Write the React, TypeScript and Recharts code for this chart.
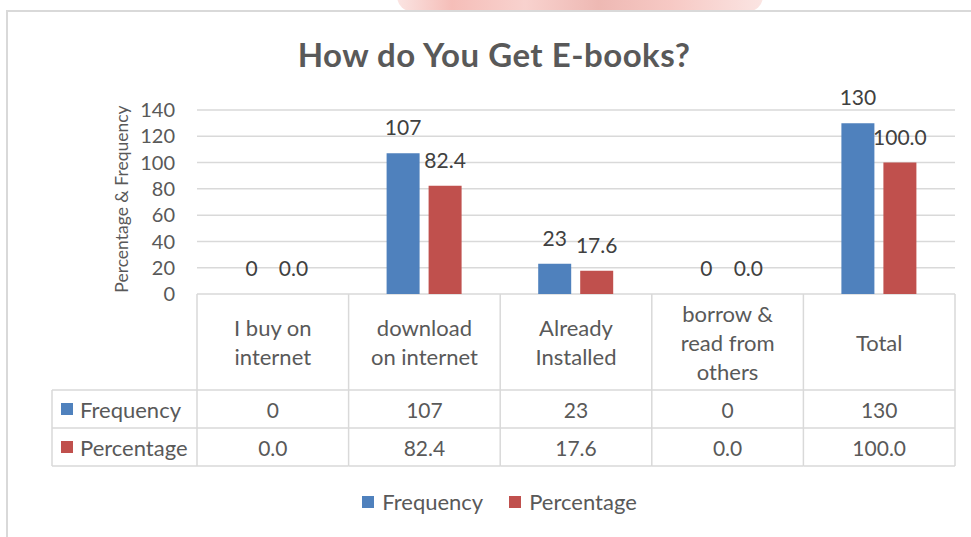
import React from "react";
import { Bar, BarChart, CartesianGrid, LabelList, Legend, XAxis, YAxis } from "recharts";

const categories = [
  "I buy on internet",
  "download on internet",
  "Already Installed",
  "borrow & read from others",
  "Total",
];
const categoryLines = [
  ["I buy on", "internet"],
  ["download", "on internet"],
  ["Already", "Installed"],
  ["borrow &", "read from", "others"],
  ["Total"],
];
const frequency = [0, 107, 23, 0, 130];
const percentage = [0.0, 82.4, 17.6, 0.0, 100.0];
const yTicks = [0, 20, 40, 60, 80, 100, 120, 140];

const BLUE = "#4F81BD";
const RED = "#C0504D";
const TEXT = "#595959";
const LINE = "#d9d9d9";
const FONT = "Lato, 'Open Sans', sans-serif";

const data = categories.map((name, i) => ({
  name,
  frequency: frequency[i],
  percentage: percentage[i],
}));

const HEADER_H = 96;
const ROW_H = 38;
const LEFT_COL = 145;

// one column of the data table under the plot, placed at the axis tick
function TableTick(props: any) {
  const { x, y, payload, index } = props;
  const half = payload?.offset ?? 75.8;
  const left = x - half;
  const right = x + half;
  const lines = categoryLines[index] || [payload.value];
  const midY = y + HEADER_H / 2;
  const lh = 29;
  const row1 = y + HEADER_H;
  const row2 = row1 + ROW_H;
  const row3 = row2 + ROW_H;
  const last = index === categories.length - 1;
  const tl = left - LEFT_COL;

  return (
    <g fontFamily={FONT} fontSize={22} fill={TEXT}>
      <line x1={left} x2={left} y1={y} y2={row3} stroke={LINE} strokeWidth={1.5} />
      {last && <line x1={right} x2={right} y1={y} y2={row3} stroke={LINE} strokeWidth={1.5} />}
      <line x1={left} x2={right} y1={row1} y2={row1} stroke={LINE} strokeWidth={1.5} />
      <line x1={left} x2={right} y1={row2} y2={row2} stroke={LINE} strokeWidth={1.5} />
      <line x1={left} x2={right} y1={row3} y2={row3} stroke={LINE} strokeWidth={1.5} />
      {lines.map((t: string, i: number) => (
        <text
          key={i}
          x={x}
          y={midY + (i - (lines.length - 1) / 2) * lh}
          textAnchor="middle"
          dominantBaseline="central"
          fill={TEXT}
        >
          {t}
        </text>
      ))}
      <text x={x} y={row1 + ROW_H / 2} textAnchor="middle" dominantBaseline="central" fill={TEXT} fontSize={21}>
        {frequency[index]}
      </text>
      <text x={x} y={row2 + ROW_H / 2} textAnchor="middle" dominantBaseline="central" fill={TEXT} fontSize={21}>
        {percentage[index].toFixed(1)}
      </text>
      {index === 0 && (
        <g>
          <line x1={tl} x2={left} y1={row1} y2={row1} stroke={LINE} strokeWidth={1.5} />
          <line x1={tl} x2={left} y1={row2} y2={row2} stroke={LINE} strokeWidth={1.5} />
          <line x1={tl} x2={left} y1={row3} y2={row3} stroke={LINE} strokeWidth={1.5} />
          <line x1={tl} x2={tl} y1={row1} y2={row3} stroke={LINE} strokeWidth={1.5} />
          <rect x={tl + 9} y={row1 + ROW_H / 2 - 6} width={12} height={12} fill={BLUE} />
          <text x={tl + 28} y={row1 + ROW_H / 2} dominantBaseline="central" fill={TEXT}>
            Frequency
          </text>
          <rect x={tl + 9} y={row2 + ROW_H / 2 - 6} width={12} height={12} fill={RED} />
          <text x={tl + 28} y={row2 + ROW_H / 2} dominantBaseline="central" fill={TEXT}>
            Percentage
          </text>
        </g>
      )}
    </g>
  );
}

function YLabel(props: any) {
  const { viewBox } = props;
  const cx = 121;
  const cy = viewBox.y + viewBox.height / 2 - 3;
  return (
    <text
      x={cx}
      y={cy}
      transform={`rotate(-90, ${cx}, ${cy})`}
      textAnchor="middle"
      dominantBaseline="central"
      fontFamily={FONT}
      fontSize={17.5}
      fill={TEXT}
    >
      Percentage &amp; Frequency
    </text>
  );
}

function LegendContent() {
  const items = [
    { label: "Frequency", color: BLUE },
    { label: "Percentage", color: RED },
  ];
  return (
    <div style={{ display: "flex", justifyContent: "center", gap: 26, fontFamily: FONT, fontSize: 22, color: TEXT }}>
      {items.map((it) => (
        <div key={it.label} style={{ display: "flex", alignItems: "center" }}>
          <span style={{ width: 12, height: 12, background: it.color, marginRight: 8, display: "inline-block" }} />
          <span>{it.label}</span>
        </div>
      ))}
    </div>
  );
}

export default function App() {
  return (
    <div style={{ position: "absolute", left: 0, top: 0, width: 971, height: 537, overflow: "hidden", background: "#fff" }}>
      {/* faded picture peeking above the chart frame */}
      <div
        style={{
          position: "absolute",
          left: 397,
          top: -4,
          width: 366,
          height: 16,
          borderRadius: "0 0 30px 30px",
          opacity: 0.75,
          background:
            "linear-gradient(90deg, #f9dcd9 0%, #f2a8a1 15%, #f6c3be 35%, #e8a19a 55%, #f4b7b1 75%, #f9dcd9 100%)",
        }}
      />
      <div
        style={{
          position: "absolute",
          left: 6,
          top: 10,
          width: 990,
          height: 560,
          border: "2px solid #d9d9d9",
          background: "#fff",
        }}
      />
      <div
        style={{
          position: "absolute",
          left: 6,
          top: 34,
          width: 976,
          textAlign: "center",
          fontFamily: FONT,
          fontWeight: 700,
          fontSize: 33,
          letterSpacing: 0.5,
          color: TEXT,
        }}
      >
        How do You Get E-books?
      </div>
      <div style={{ position: "absolute", left: 0, top: 0 }}>
        <BarChart
          width={971}
          height={537}
          data={data}
          margin={{ top: 110, right: 16, left: 137, bottom: 63 }}
          barSize={33}
          barGap={9}
        >
          <CartesianGrid vertical={false} stroke={LINE} strokeWidth={1.5} />
          <XAxis
            dataKey="name"
            axisLine={false}
            tickLine={false}
            tickSize={0}
            tickMargin={0}
            height={180}
            interval={0}
            tick={<TableTick />}
          />
          <YAxis
            width={60}
            domain={[0, 140]}
            ticks={yTicks}
            interval={0}
            axisLine={false}
            tickLine={false}
            tickSize={6}
            tickMargin={16}
            tick={{ fontSize: 20, fill: TEXT, fontFamily: FONT }}
            label={<YLabel />}
          />
          <Legend
            verticalAlign="middle"
            align="center"
            content={<LegendContent />}
            wrapperStyle={{ top: 488, left: 28, width: 943 }}
          />
          <Bar dataKey="frequency" name="Frequency" fill={BLUE} minPointSize={0.01} isAnimationActive={false}>
            <LabelList
              dataKey="frequency"
              position="top"
              offset={18}
              fill="#404040"
              fontSize={21}
              fontFamily={FONT}
            />
          </Bar>
          <Bar dataKey="percentage" name="Percentage" fill={RED} minPointSize={0.01} isAnimationActive={false}>
            <LabelList
              dataKey="percentage"
              position="top"
              offset={18}
              fill="#404040"
              fontSize={21}
              fontFamily={FONT}
              formatter={(v: any) => Number(v).toFixed(1)}
            />
          </Bar>
        </BarChart>
      </div>
    </div>
  );
}
